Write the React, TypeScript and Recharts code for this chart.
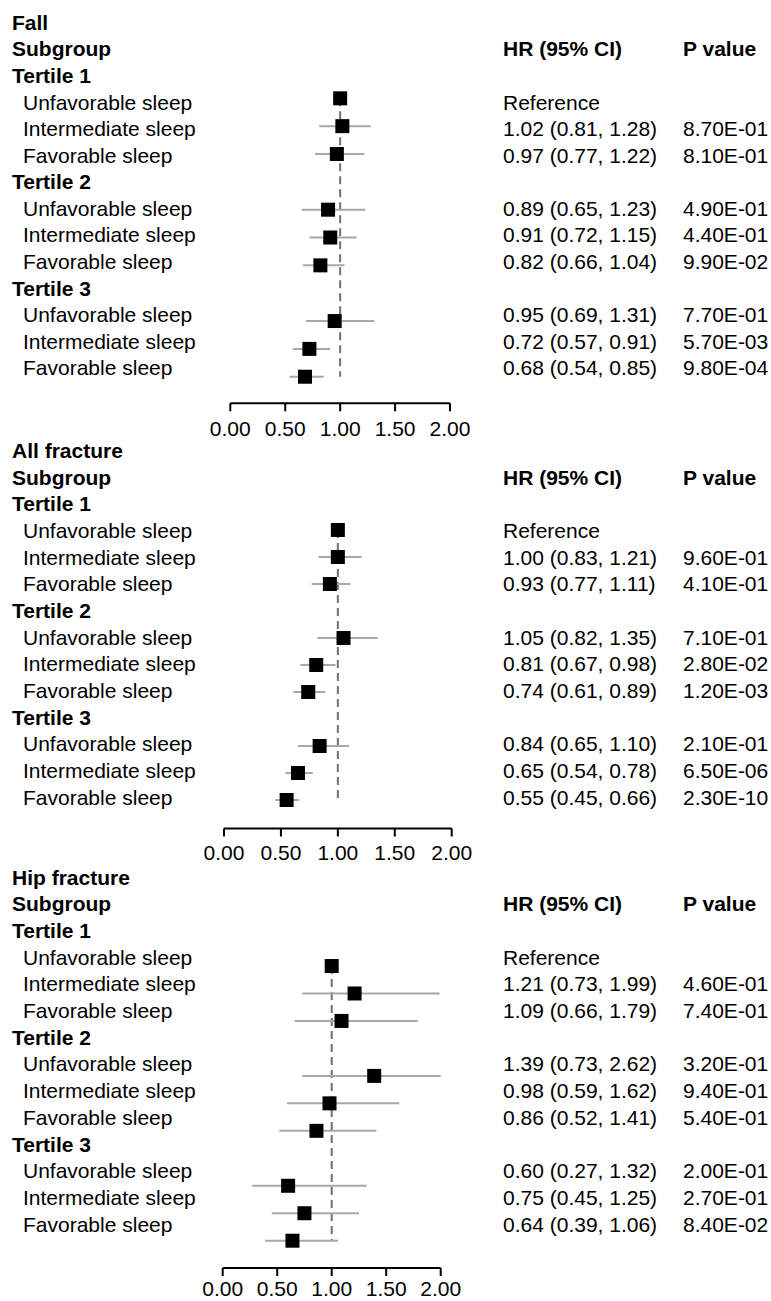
import React from 'react';
import { ScatterChart, Scatter, XAxis, YAxis, ErrorBar, ReferenceLine } from 'recharts';

// --- shared labels ---
const tertileLabels = ['Tertile 1', 'Tertile 2', 'Tertile 3'];
const sleepLabels = ['Unfavorable sleep', 'Intermediate sleep', 'Favorable sleep'];
const xTicks = [0, 0.5, 1, 1.5, 2];
const X_MAX = 2;

// --- Fall ---
const fallHR = [1.0, 1.02, 0.97, 0.89, 0.91, 0.82, 0.95, 0.72, 0.68];
const fallLow = [null, 0.81, 0.77, 0.65, 0.72, 0.66, 0.69, 0.57, 0.54];
const fallHigh = [null, 1.28, 1.22, 1.23, 1.15, 1.04, 1.31, 0.91, 0.85];
const fallP = ['', '8.70E-01', '8.10E-01', '4.90E-01', '4.40E-01', '9.90E-02', '7.70E-01', '5.70E-03', '9.80E-04'];

// --- All fracture ---
const allHR = [1.0, 1.0, 0.93, 1.05, 0.81, 0.74, 0.84, 0.65, 0.55];
const allLow = [null, 0.83, 0.77, 0.82, 0.67, 0.61, 0.65, 0.54, 0.45];
const allHigh = [null, 1.21, 1.11, 1.35, 0.98, 0.89, 1.1, 0.78, 0.66];
const allP = ['', '9.60E-01', '4.10E-01', '7.10E-01', '2.80E-02', '1.20E-03', '2.10E-01', '6.50E-06', '2.30E-10'];

// --- Hip fracture ---
const hipHR = [1.0, 1.21, 1.09, 1.39, 0.98, 0.86, 0.6, 0.75, 0.64];
const hipLow = [null, 0.73, 0.66, 0.73, 0.59, 0.52, 0.27, 0.45, 0.39];
const hipHigh = [null, 1.99, 1.79, 2.62, 1.62, 1.41, 1.32, 1.25, 1.06];
const hipP = ['', '4.60E-01', '7.40E-01', '3.20E-01', '9.40E-01', '5.40E-01', '2.00E-01', '2.70E-01', '8.40E-02'];

const FONT = 21;

type Row = {
  row: number;
  hr: number;
  low: number | null;
  high: number | null;
  p: string;
  label: string;
  ci: string;
};

const buildRows = (hr: number[], low: (number | null)[], high: (number | null)[], p: string[]): Row[] =>
  hr.map((v, i) => ({
    row: 3 + i + Math.floor(i / 3),
    hr: v,
    low: low[i],
    high: high[i],
    p: p[i],
    label: sleepLabels[i % 3],
    ci: low[i] == null ? 'Reference' : `${v.toFixed(2)} (${(low[i] as number).toFixed(2)}, ${(high[i] as number).toFixed(2)})`,
  }));

type Line = { label: string; bold: boolean; indent: boolean; ci?: string; p?: string };

const buildLines = (title: string, rows: Row[]) => {
  const lines: Record<number, Line> = {};
  lines[0] = { label: title, bold: true, indent: false };
  lines[1] = { label: 'Subgroup', bold: true, indent: false, ci: 'HR (95% CI)', p: 'P value' };
  tertileLabels.forEach((t, k) => {
    lines[2 + k * 4] = { label: t, bold: true, indent: false };
  });
  rows.forEach((r) => {
    lines[r.row] = { label: r.label, bold: false, indent: true, ci: r.ci, p: r.p };
  });
  return lines;
};

// layout per panel (page pixels): axis line, x of 0 and 2, text rows and mark rows
const panels = [
  { title: 'Fall', rows: buildRows(fallHR, fallLow, fallHigh, fallP), top: 0, height: 445, axisY: 403.3, tickGap: 10, x0: 230.3, x2: 450, textStart: 22.2, textStep: 26.58, markStart: 14.8, markStep: 27.84 },
  { title: 'All fracture', rows: buildRows(allHR, allLow, allHigh, allP), top: 430, height: 445, axisY: 828.5, tickGap: 9, x0: 224, x2: 451.7, textStart: 450.3, textStep: 26.67, markStart: 449, markStep: 27.0 },
  { title: 'Hip fracture', rows: buildRows(hipHR, hipLow, hipHigh, hipP), top: 860, height: 441, axisY: 1268, tickGap: 5, x0: 222.7, x2: 440.7, textStart: 877, textStep: 26.7, markStart: 883.6, markStep: 27.47 },
];

const textRows = Array.from({ length: 14 }, (_, i) => i);

const errFn = (d: any) => {
  const e = d && d.payload ? d.payload : d;
  if (e.low == null) return [0, 0];
  return [e.hr - e.low, Math.min(e.high, X_MAX) - e.hr];
};

const Square = (props: any) => {
  const { cx, cy } = props;
  return <rect x={cx - 7} y={cy - 7} width={14} height={14} fill="#000" />;
};

const makeTick = (lines: Record<number, Line>) => (props: any) => {
  const { y, payload } = props;
  const line = lines[payload.value];
  if (!line) return <g />;
  const weight = line.bold ? 'bold' : 'normal';
  return (
    <g>
      <text x={line.indent ? 23 : 12} y={y} dy="0.36em" fontSize={FONT} fontWeight={weight} fill="#000">
        {line.label}
      </text>
      {line.ci && (
        <text x={503} y={y} dy="0.36em" fontSize={FONT} fontWeight={weight} fill="#000">
          {line.ci}
        </text>
      )}
      {line.p && (
        <text x={683} y={y} dy="0.36em" fontSize={FONT} fontWeight={weight} fill="#000">
          {line.p}
        </text>
      )}
    </g>
  );
};

const ForestPanel = ({ panel }: { panel: (typeof panels)[number] }) => {
  const { title, rows, top, height, axisY, tickGap, x0, x2, textStart, textStep, markStart, markStep } = panel;
  const lines = buildLines(title, rows);
  const textDomain = [(top - textStart) / textStep, (axisY - textStart) / textStep];
  const markDomain = [(top - markStart) / markStep, (axisY - markStart) / markStep];
  const firstRow = rows[0].row;
  const lastRow = rows[rows.length - 1].row;
  return (
    <div style={{ position: 'absolute', left: 0, top }}>
      <ScatterChart width={771} height={height} margin={{ top: 0, right: 771 - x2, bottom: 0, left: 0 }}>
        <XAxis
          dataKey="hr"
          type="number"
          domain={[0, X_MAX]}
          ticks={xTicks}
          allowDataOverflow
          interval={0}
          height={top + height - axisY}
          tickFormatter={(v: number) => v.toFixed(2)}
          axisLine={{ stroke: '#000', strokeWidth: 2 }}
          tickLine={{ stroke: '#000', strokeWidth: 2 }}
          tickSize={8}
          tickMargin={tickGap}
          tick={{ fontSize: FONT, fill: '#000' }}
        />
        <YAxis
          yAxisId="text"
          type="number"
          domain={textDomain}
          reversed
          allowDataOverflow
          ticks={textRows}
          interval={0}
          width={x0}
          axisLine={false}
          tickLine={false}
          tick={makeTick(lines)}
        />
        <YAxis yAxisId="marks" dataKey="row" type="number" domain={markDomain} reversed allowDataOverflow hide />
        <ReferenceLine
          yAxisId="marks"
          segment={[
            { x: rows[0].hr, y: firstRow },
            { x: rows[0].hr, y: lastRow },
          ]}
          stroke="#707070"
          strokeDasharray="8 5"
          strokeWidth={2}
        />
        <Scatter yAxisId="marks" data={rows} shape={Square} isAnimationActive={false}>
          <ErrorBar direction="x" dataKey={errFn} width={0} stroke="#a8a8a8" strokeWidth={2} isAnimationActive={false} />
        </Scatter>
      </ScatterChart>
    </div>
  );
}

export default function App() {
  return (
    <div
      style={{
        position: 'absolute',
        left: 0,
        top: 0,
        width: 771,
        height: 1301,
        background: '#fff',
        fontFamily: '"Liberation Sans", Arial, Helvetica, sans-serif',
      }}
    >
      {panels.map((p) => (
        <ForestPanel key={p.title} panel={p} />
      ))}
    </div>
  );
}
